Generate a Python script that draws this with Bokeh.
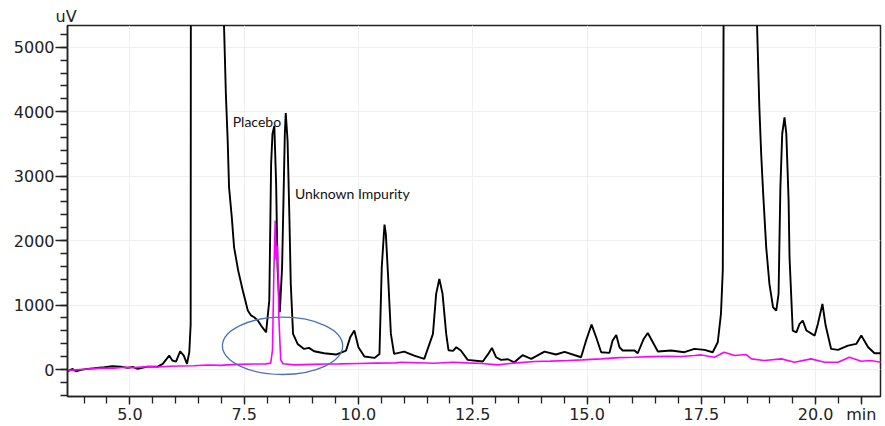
from bokeh.plotting import figure
from bokeh.models import FixedTicker, Label, Range1d
from bokeh.embed import file_html
from bokeh.resources import INLINE

# Retention time (min) and detector response (uV) for the sample trace
sample_time = [
    3.64, 3.75, 3.82, 3.93, 4.08, 4.22, 4.44, 4.62, 4.80, 4.95, 5.06, 5.17, 5.39,
    5.61, 5.72, 5.86, 5.93, 6.01, 6.10, 6.18, 6.25, 6.30, 6.33, 6.34, 6.60, 6.90,
    7.02, 7.06, 7.10, 7.14, 7.17, 7.23, 7.28, 7.37, 7.47, 7.58, 7.65, 7.72, 7.80,
    7.87, 7.98, 8.05, 8.09, 8.12, 8.16, 8.20, 8.23, 8.28, 8.33, 8.36, 8.39, 8.41,
    8.45, 8.49, 8.52, 8.57, 8.67, 8.81, 8.92, 9.03, 9.25, 9.51, 9.73, 9.82, 9.91,
    10.00, 10.13, 10.35, 10.46, 10.51, 10.57, 10.60, 10.65, 10.71, 10.78, 11.00,
    11.22, 11.44, 11.63, 11.70, 11.77, 11.84, 11.92, 11.97, 12.07, 12.14, 12.24,
    12.39, 12.72, 12.84, 12.92, 13.01, 13.12, 13.27, 13.41, 13.59, 13.78, 14.07,
    14.32, 14.51, 14.87, 14.98, 15.10, 15.20, 15.31, 15.49, 15.56, 15.64, 15.71,
    15.78, 16.04, 16.11, 16.24, 16.33, 16.44, 16.55, 16.84, 17.13, 17.35, 17.57,
    17.75, 17.86, 17.93, 17.97, 17.99, 18.30, 18.60, 18.70, 18.72, 18.77, 18.81,
    18.85, 18.92, 18.99, 19.07, 19.14, 19.19, 19.23, 19.27, 19.32, 19.36, 19.38,
    19.41, 19.43, 19.50, 19.58, 19.65, 19.72, 19.80, 19.98, 20.05, 20.15, 20.22,
    20.34, 20.49, 20.71, 20.89, 21.00, 21.15, 21.29, 21.44,
]
sample_uv = [
    -26, 10, -26, -5, 10, 20, 36, 51, 46, 26, 40, 10, 46,
    46, 88, 217, 140, 124, 284, 217, 88, 268, 700, 12000, 60000, 40000,
    9000, 5330, 4280, 3550, 2826, 2360, 1896, 1535, 1225, 915, 840, 811, 760,
    682, 578, 1070, 3189, 3658, 3780, 2880, 1586, 889, 1586, 2620, 3658, 3980,
    3550, 2360, 1328, 553, 398, 320, 336, 284, 253, 233, 295, 501, 605,
    346, 202, 181, 243, 1586, 2248, 2100, 1431, 553, 243, 279,
    217, 166, 553, 1174, 1406, 1174, 553, 300, 290, 346, 295,
    150, 124, 243, 336, 191, 150, 160, 113, 222, 166, 279,
    233, 274, 191, 450, 698, 501, 269, 258, 450, 537, 346,
    295, 295, 253, 475, 568, 423, 279, 295, 269, 320, 305,
    269, 423, 863, 1535, 6000, 80000, 50000, 6000, 5330, 4067, 3344,
    2775, 1896, 1328, 966, 915, 1174, 2826, 3654, 3912, 3654, 3240,
    2620, 1741, 605, 578, 708, 760, 605, 527, 708, 1018, 682,
    320, 305, 372, 398, 527, 346, 253, 253,
]

# Placebo / blank injection trace
placebo_time = [
    3.64, 3.80, 4.00, 4.20, 4.40, 4.65, 4.90, 5.10, 5.40, 5.60, 5.88, 6.10, 6.40,
    6.70, 7.00, 7.12, 7.40, 7.70, 7.98, 8.08, 8.12, 8.15, 8.18, 8.20, 8.23, 8.26,
    8.30, 8.35, 8.60, 9.00, 9.30, 9.59, 10.00, 10.40, 10.82, 10.93, 11.30, 11.66,
    12.06, 12.39, 12.70, 13.05, 13.40, 13.85, 14.20, 14.58, 14.90, 15.31, 15.70,
    16.04, 16.40, 16.77, 17.06, 17.35, 17.50, 17.79, 18.00, 18.23, 18.48, 18.60,
    18.88, 19.25, 19.54, 19.90, 20.20, 20.49, 20.74, 21.00, 21.20, 21.44,
]
placebo_uv = [
    -15, -5, 5, 15, 25, 20, 35, 30, 45, 40, 51, 55, 60,
    70, 65, 72, 80, 85, 88, 100, 300, 1500, 2310, 1700, 1922, 800,
    150, 90, 72, 80, 85, 88, 95, 100, 103, 113, 105, 98,
    113, 103, 95, 72, 100, 124, 130, 140, 150, 166, 185,
    191, 200, 207, 202, 217, 227, 191, 269, 217, 233, 166,
    140, 166, 113, 166, 113, 113, 191, 129, 140, 113,
]

x_major = [5.0, 7.5, 10.0, 12.5, 15.0, 17.5, 20.0]
x_unit_pos = 21.0  # the time unit is written under this tick
x_minor = [3.5 + 0.5 * i for i in range(38)]
y_major = [0, 1000, 2000, 3000, 4000, 5000]
y_minor = [-400 + 200 * i for i in range(30)]

p = figure(
    width=885, height=426,
    x_range=Range1d(3.636, 21.42), y_range=Range1d(-418, 5337),
    output_backend="svg", toolbar_location=None,
    min_border_left=67, min_border_right=5, min_border_top=25, min_border_bottom=30,
)
p.background_fill_color = "white"
p.border_fill_color = "white"
p.outline_line_color = "#222222"
p.outline_line_width = 1.5

# Unit of the response axis, written at the top-left corner of the frame
p.title.text = "uV"
p.title.align = "left"
p.title.offset = -12
p.title.standoff = 0
p.title.text_font = "DejaVu Sans"
p.title.text_font_size = "16px"
p.title.text_font_style = "normal"
p.title.text_color = "#222222"
p.title.vertical_align = "bottom"

for ax in (p.xaxis[0], p.yaxis[0]):
    ax.axis_line_color = "#222222"
    ax.axis_line_width = 1.5
    ax.major_tick_line_color = "#222222"
    ax.minor_tick_line_color = "#222222"
    ax.major_tick_line_width = 1.3
    ax.minor_tick_line_width = 1.3
    ax.major_tick_in = 0
    ax.minor_tick_in = 0
    ax.major_label_text_font = "DejaVu Sans"
    ax.major_label_text_font_size = "16px"
    ax.major_label_text_color = "#222222"

# Time axis: labelled ticks every 2.5 min plus the unit at the right end
overrides = {v: f"{v:.1f}" for v in x_major}
overrides[x_unit_pos] = "min"
p.xaxis.ticker = FixedTicker(ticks=x_major + [x_unit_pos], minor_ticks=x_minor)
p.xaxis.major_tick_out = 8
p.xaxis.minor_tick_out = 7
p.xaxis.major_label_standoff = 0
p.xaxis.major_label_overrides = overrides

p.yaxis.ticker = FixedTicker(ticks=y_major, minor_ticks=y_minor)
p.yaxis.major_tick_out = 12
p.yaxis.minor_tick_out = 7
p.yaxis.major_label_standoff = 1

p.xgrid.ticker = FixedTicker(ticks=x_major)
p.ygrid.ticker = FixedTicker(ticks=y_major)
p.grid.grid_line_color = "#f0f0f0"
p.grid.grid_line_width = 1

# Chromatograms
p.line(sample_time, sample_uv, line_color="black", line_width=1.9)
p.line(placebo_time, placebo_uv, line_color="#ff00ff", line_width=1.6)

# Highlight around the co-eluting region
p.ellipse(x=[8.34], y=[368], width=[2.63], height=[889],
          fill_color=None, line_color="#4a72b8", line_width=1.3)

# Peak annotations
p.add_layout(Label(x=7.25, y=3847, text="Placebo", text_font="Lato",
                   text_font_size="14px", text_baseline="middle", text_color="#111111"))
p.add_layout(Label(x=8.61, y=2730, text="Unknown Impurity", text_font="Lato",
                   text_font_size="14px", text_baseline="middle", text_color="#111111"))

open("out.html", "w").write(file_html(p, INLINE))
